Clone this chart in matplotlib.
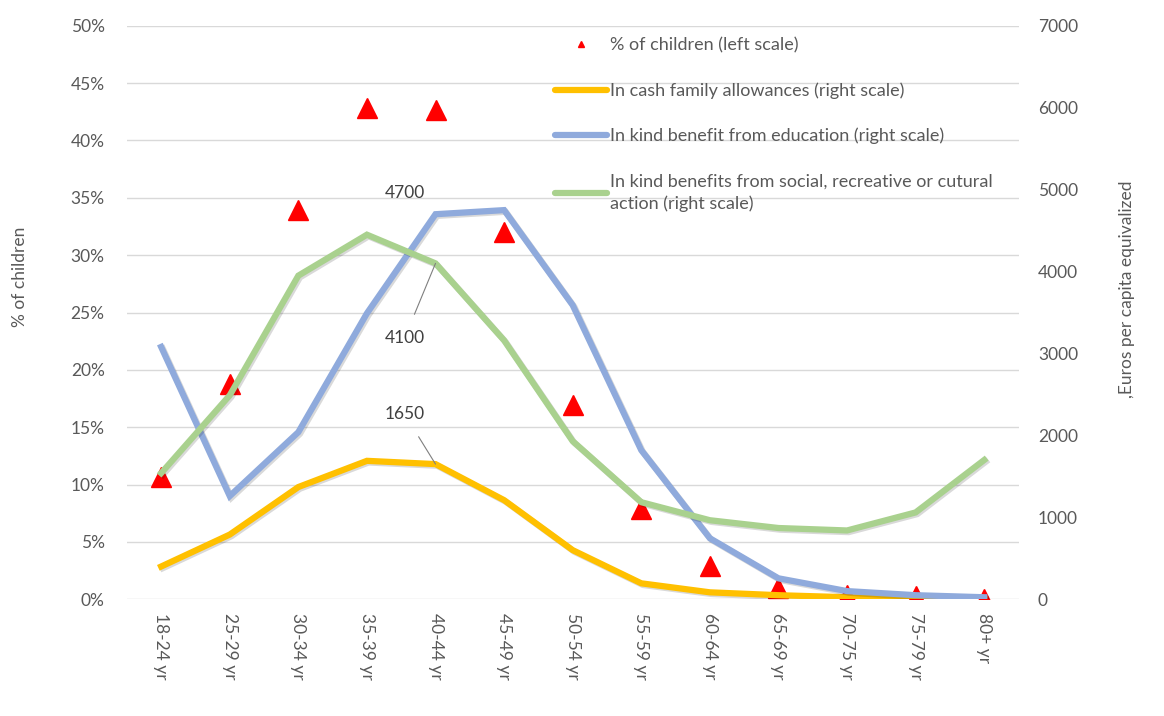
from matplotlib import pyplot as plt
import matplotlib.patheffects as pe
from matplotlib.lines import Line2D
from matplotlib.ticker import PercentFormatter
import numpy as np

plt.rcParams['font.family'] = ['Lato', 'DejaVu Sans']

ages = ['18-24 yr', '25-29 yr', '30-34 yr', '35-39 yr', '40-44 yr', '45-49 yr', '50-54 yr',
        '55-59 yr', '60-64 yr', '65-69 yr', '70-75 yr', '75-79 yr', '80+ yr']
pct_children = [10.7, 18.8, 33.9, 42.8, 42.7, 32.0, 16.9, 7.9, 2.9, 1.0, 0.4, 0.3, 0.0]
cash = [400, 790, 1370, 1690, 1650, 1210, 600, 195, 85, 50, 25, 10, 0]
education = [3080, 1260, 2040, 3490, 4700, 4750, 3590, 1820, 745, 256, 100, 50, 25]
social = [1540, 2490, 3950, 4450, 4100, 3160, 1930, 1185, 965, 870, 840, 1060, 1700]

grey = '#595959'
yellow = '#FFC000'
blue = '#8FAADC'
green = '#A9D18E'

x = np.arange(len(ages))

fig = plt.figure(figsize=(11.64, 7.16), dpi=100)
ax = fig.add_axes([0.109, 0.163, 0.766, 0.801])
ax2 = ax.twinx()

ax.plot(x, pct_children, linestyle='none', marker='^', markersize=15, color='red')
ax.set_ylim(0, 50)
ax.set_yticks(np.arange(0, 51, 5))
ax.yaxis.set_major_formatter(PercentFormatter(decimals=0))
ax.set_xlim(-0.5, len(ages) - 0.5)
ax.set_xticks(x)
ax.set_xticklabels(ages, rotation=-90)
ax.grid(axis='y', color='#d9d9d9', linewidth=1)
ax.set_axisbelow(True)

shadow = [pe.SimpleLineShadow(offset=(1.2, -1.2), alpha=0.15), pe.Normal()]
for vals, col in [(cash, yellow), (education, blue), (social, green)]:
    ax2.plot(x, vals, color=col, linewidth=4.5, solid_joinstyle='miter', path_effects=shadow)
ax2.set_ylim(0, 7000)
ax2.set_yticks(np.arange(0, 7001, 1000))

for a in (ax, ax2):
    for s in a.spines.values():
        s.set_visible(False)
    a.tick_params(length=0, colors=grey, labelsize=12.5)
ax.tick_params(axis='y', pad=16)
ax.tick_params(axis='x', pad=10)
ax2.tick_params(axis='y', pad=14)

fig.text(20 / 1164, 1 - 277 / 716, '% of children', rotation=90, ha='center', va='center',
         color=grey, fontsize=12.5)
fig.text(1127 / 1164, 1 - 289 / 716, ',Euros per capita equivalized', rotation=90,
         ha='center', va='center', color=grey, fontsize=12.5)

ax2.text(3.55, 4960, '4700', ha='center', va='center', fontsize=12.5, color='#404040')
ax2.annotate('4100', xy=(4, social[4]), xytext=(3.55, 3190), ha='center', va='center',
             fontsize=12.5, color='#404040',
             arrowprops=dict(arrowstyle='-', color='#7f7f7f', lw=0.8, shrinkA=10, shrinkB=0))
ax2.annotate('1650', xy=(4, cash[4]), xytext=(3.55, 2260), ha='center', va='center',
             fontsize=12.5, color='#404040',
             arrowprops=dict(arrowstyle='-', color='#7f7f7f', lw=0.8, shrinkA=10, shrinkB=0))

handles = [
    Line2D([], [], linestyle='none', marker='^', markersize=5, color='red'),
    Line2D([], [], color=yellow, linewidth=4.5, solid_capstyle='round'),
    Line2D([], [], color=blue, linewidth=4.5, solid_capstyle='round'),
    Line2D([], [], color=green, linewidth=4.5, solid_capstyle='round'),
]
labels = ['% of children (left scale)',
          'In cash family allowances (right scale)',
          'In kind benefit from education (right scale)',
          'In kind benefits from social, recreative or cutural\naction (right scale)']
leg = ax2.legend(handles, labels, loc='upper left', bbox_to_anchor=(0.462, 1.008),
                 frameon=False, fontsize=13, handlelength=2.9, handletextpad=0.12,
                 labelspacing=1.6, labelcolor=grey)
leg.get_texts()[3].set_linespacing(1.45)

plt.savefig('out.png', dpi=100)
